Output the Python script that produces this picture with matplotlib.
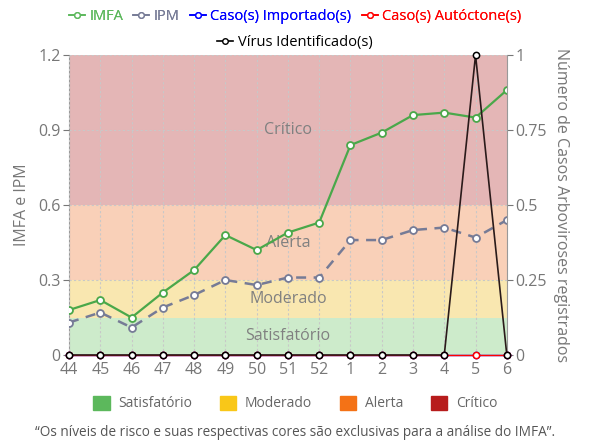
import numpy as np
import matplotlib
matplotlib.use("Agg")
import matplotlib.pyplot as plt
from matplotlib.lines import Line2D
from matplotlib.patches import Patch

plt.rcParams['font.family'] = ['Open Sans', 'DejaVu Sans']

semanas = ['44', '45', '46', '47', '48', '49', '50', '51', '52', '1', '2', '3', '4', '5', '6']
imfa = [0.18, 0.22, 0.15, 0.25, 0.34, 0.48, 0.42, 0.49, 0.53, 0.84, 0.89, 0.96, 0.97, 0.95, 1.06]
ipm = [0.13, 0.17, 0.11, 0.19, 0.24, 0.30, 0.28, 0.31, 0.31, 0.46, 0.46, 0.50, 0.51, 0.47, 0.54]
importados = [0] * 15
autoctones = [0] * 15
virus = [0, 0, 0, 0, 0, 0, 0, 0, 0, 0, 0, 0, 0, 1, 0]

niveis = ['Satisfatório', 'Moderado', 'Alerta', 'Crítico']
limites = [0, 0.15, 0.3, 0.6, 1.2]
cores_faixa = ['#cdebcb', '#f9e7b0', '#f9d0b8', '#e4b6b6']
cores_legenda = ['#5cb85c', '#f9c718', '#f47216', '#b71c1c']

cinza = '#777777'
x = np.arange(len(semanas))

fig = plt.figure(figsize=(5.9, 4.41), dpi=100)
ax = fig.add_axes([0.117, 0.195, 0.742, 0.68])
ax2 = ax.twinx()

for i, nome in enumerate(niveis):
    ax.axhspan(limites[i], limites[i + 1], color=cores_faixa[i], zorder=0, lw=0)
    ax.text((x[0] + x[-1]) / 2, (limites[i] + limites[i + 1]) / 2, nome,
            ha='center', va='center', color='#808080', fontsize=11.5, zorder=2.8)

ax.set_xlim(x[0], x[-1])
ax.set_ylim(0, 1.2)
ax.set_yticks([0, 0.3, 0.6, 0.9, 1.2])
ax.set_yticklabels(['0', '0.3', '0.6', '0.9', '1.2'])
ax.set_xticks(x)
ax.set_xticklabels(semanas)
ax.grid(True, linestyle=(0, (2, 2)), color='#c8c8c8', lw=0.8)
ax.set_axisbelow(False)

ax.plot(x, imfa, '-o', color='#4aa84a', lw=1.6, ms=5, mfc='white', mec='#4aa84a', mew=1.3, zorder=3)
ax.plot(x, ipm, '--o', color='#767b96', lw=1.8, ms=5, mfc='white', mec='#767b96', mew=1.3,
        dashes=(4, 3), zorder=3)

ax2.set_ylim(0, 1)
ax2.set_yticks([0, 0.25, 0.5, 0.75, 1])
ax2.set_yticklabels(['0', '0.25', '0.5', '0.75', '1'])
ax2.plot(x, importados, '-o', color='blue', lw=1, ms=4.5, mfc='white', mec='blue', mew=1.1, clip_on=False, zorder=4)
ax2.plot(x, autoctones, '-o', color='red', lw=1, ms=4.5, mfc='white', mec='red', mew=1.1, clip_on=False, zorder=5)
ax2.plot(x, virus, '-o', color='#2a1a1a', lw=1.2, ms=4.5, mfc='white', mec='black', mew=1.1, clip_on=False, zorder=6)

for a in (ax, ax2):
    for s in a.spines.values():
        s.set_visible(False)
    a.tick_params(colors=cinza, labelsize=11.5, length=4, width=0.8)
ax.spines['left'].set_visible(True)
ax.spines['left'].set_color('#999999')
ax2.spines['right'].set_visible(True)
ax2.spines['right'].set_color('#999999')
ax.tick_params(axis='x', length=0, pad=5)
ax2.tick_params(axis='y', pad=2)
ax.tick_params(axis='y', pad=2)

ax.set_ylabel('IMFA e IPM', color=cinza, fontsize=11.5, labelpad=6)
ax2.set_ylabel('Número de Casos Arboviroses registrados', color=cinza, fontsize=11.5,
               rotation=270, labelpad=16)

def marca(cor, ls='-'):
    return Line2D([], [], color=cor, ls=ls, lw=1.2, marker='o', ms=4, mfc='white', mec=cor)

series = ['IMFA', 'IPM', 'Caso(s) Importado(s)', 'Caso(s) Autóctone(s)']
cores_series = ['#5cb85c', '#767b96', 'blue', 'red']
leg1 = fig.legend([marca(c) for c in cores_series], series, loc='center', bbox_to_anchor=(0.5, 0.962),
                  ncol=4, frameon=False, fontsize=10.5, handlelength=1.1, handletextpad=0.3,
                  columnspacing=0.7, labelcolor=cores_series)
leg2 = fig.legend([marca('black')], ['Vírus Identificado(s)'], loc='center', bbox_to_anchor=(0.5, 0.903),
                  frameon=False, fontsize=10.5, handlelength=1.1, handletextpad=0.3)
fig.add_artist(leg1)

fig.legend([Patch(color=c) for c in cores_legenda], niveis, loc='center', bbox_to_anchor=(0.5, 0.085),
           ncol=4, frameon=False, fontsize=10, handlelength=1.2, handleheight=1.2,
           handletextpad=0.6, columnspacing=2.0, labelcolor='#666666')

fig.text(0.5, 0.02, '“Os níveis de risco e suas respectivas cores são exclusivas para a análise do IMFA”.',
         ha='center', va='center', fontsize=9.8, color='#555555')

fig.savefig('out.png', dpi=100)
